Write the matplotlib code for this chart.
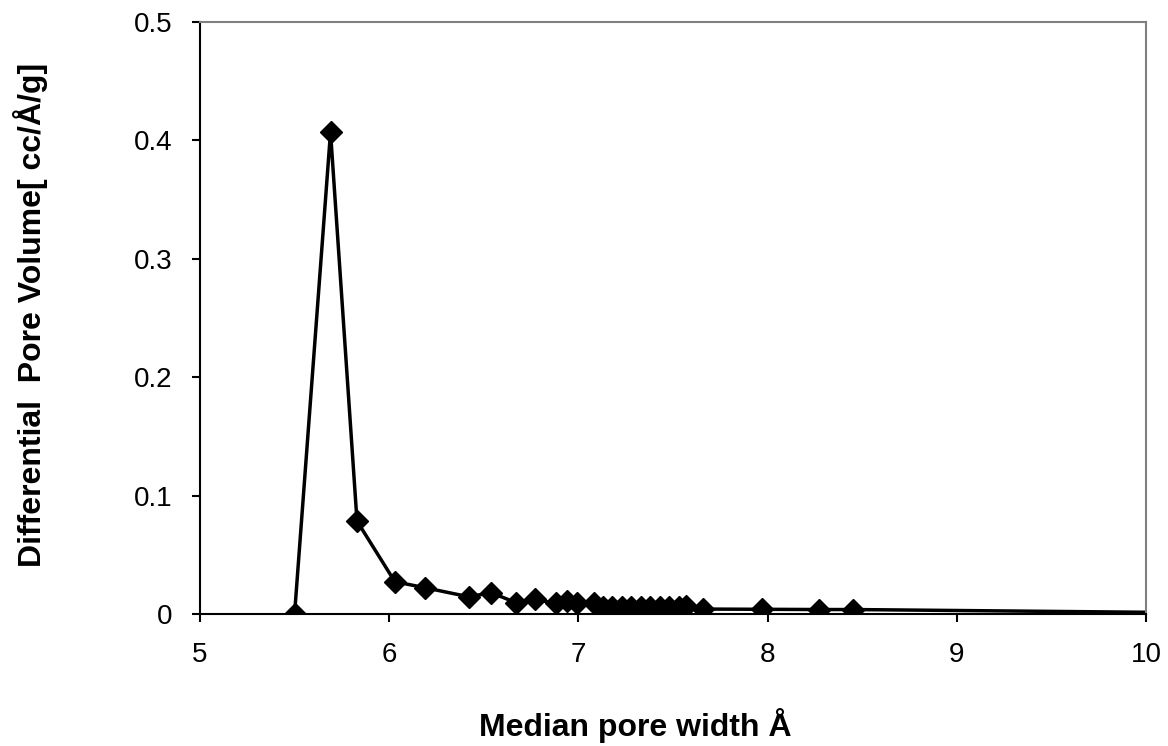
import matplotlib.pyplot as plt

plt.rcParams['font.family'] = ['Liberation Sans', 'DejaVu Sans']

# median pore width (Å) and differential pore volume (cc/Å/g)
width = [5.50, 5.69, 5.83, 6.03, 6.19, 6.42, 6.54, 6.67, 6.77, 6.88, 6.94, 6.99,
         7.08, 7.13, 7.18, 7.23, 7.28, 7.33, 7.38, 7.43, 7.48, 7.53, 7.57, 7.66,
         7.97, 8.27, 8.45, 11.0]
volume = [0.0, 0.407, 0.0785, 0.0273, 0.0222, 0.0146, 0.018, 0.0096, 0.0124, 0.009, 0.0108, 0.009,
          0.0096, 0.006, 0.006, 0.006, 0.006, 0.006, 0.006, 0.006, 0.006, 0.006, 0.0065, 0.0042,
          0.004, 0.0038, 0.0038, 0.0]

fig = plt.figure(figsize=(11.68, 7.46), dpi=100)
ax = fig.add_axes([0.1712, 0.1769, 0.81, 0.7936])

ax.plot(width, volume, color="black", linewidth=2.5, marker="D", markersize=11,
        markevery=list(range(len(width) - 1)), clip_on=True)

ax.set_xlim(5, 10)
ax.set_ylim(0, 0.5)
ax.set_xticks([5, 6, 7, 8, 9, 10])
ax.set_yticks([0, 0.1, 0.2, 0.3, 0.4, 0.5])
ax.set_yticklabels(["0", "0.1", "0.2", "0.3", "0.4", "0.5"])

for side in ["top", "right"]:
    ax.spines[side].set_color("#808080")
    ax.spines[side].set_linewidth(1.5)
for side in ["left", "bottom"]:
    ax.spines[side].set_linewidth(1.5)
ax.tick_params(direction="out", length=6, width=1.5, labelsize=20, pad=14)
ax.tick_params(axis="x", pad=14)

# axis titles placed as figure text
fig.text(0.5437, 0.028, "Median pore width Å", fontsize=23, fontweight="bold",
         ha="center", va="center")
fig.text(0.026, 0.578, "Differential  Pore Volume[ cc/Å/g]", fontsize=23, fontweight="bold",
         ha="center", va="center", rotation=90)

fig.savefig("out.png", dpi=100)
